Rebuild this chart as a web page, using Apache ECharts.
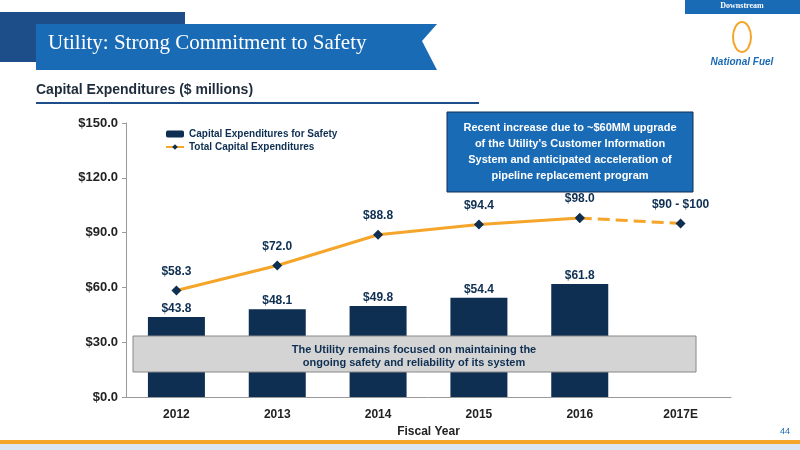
<!DOCTYPE html><html><head><meta charset="utf-8">
<script src="https://cdn.jsdelivr.net/npm/echarts@6/dist/echarts.min.js"></script>
<style>html,body{margin:0;padding:0;background:#fff}#c{width:800px;height:450px}</style></head>
<body><div id="c"></div><script>
const categories=['2012','2013','2014','2015','2016','2017E'];
const safety=[43.8,48.1,49.8,54.4,61.8,null];
const total=[58.3,72.0,88.8,94.4,98.0,null];
const projected=[null,null,null,null,98.0,95.0];
const totalLabels=['$58.3','$72.0','$88.8','$94.4','$98.0','$90 - $100'];
const yTicks=[0,30,60,90,120,150];
const F='Liberation Sans';
const chart=echarts.init(document.getElementById('c'));
chart.setOption({
animation:false,
textStyle:{fontFamily:F},
grid:{left:126,right:69,top:123,bottom:53},
legend:{left:160,top:124,orient:'vertical',itemGap:3,itemWidth:18,itemHeight:7,
 textStyle:{fontSize:10,fontWeight:'bold',color:'#0e2f52',fontFamily:F},
 data:['Capital Expenditures for Safety','Total Capital Expenditures']},
xAxis:{type:'category',data:categories,axisTick:{show:false},
 axisLine:{lineStyle:{color:'#999'}},
 axisLabel:{fontSize:12,fontWeight:'bold',color:'#222',margin:12},
 name:'Fiscal Year',nameLocation:'middle',nameGap:24,nameTextStyle:{fontSize:12,fontWeight:'bold',color:'#222'}},
yAxis:{type:'value',min:0,max:150,interval:30,splitLine:{show:false},
 axisLine:{show:true,lineStyle:{color:'#999'}},axisTick:{show:true,length:4},
 axisLabel:{fontSize:13,fontWeight:'bold',color:'#222',formatter:v=>'$'+v.toFixed(1)}},
series:[
{name:'Capital Expenditures for Safety',type:'bar',data:safety,barWidth:57,z:1,
 itemStyle:{color:'#0e2f52'},
 label:{show:true,position:'top',distance:2,fontSize:12,fontWeight:'bold',color:'#0e2f52',formatter:p=>'$'+p.value.toFixed(1)}},
{name:'Total Capital Expenditures',type:'line',data:total,symbol:'diamond',symbolSize:10,z:3,
 lineStyle:{color:'#f5a52a',width:3},itemStyle:{color:'#0e2f52'},
 label:{show:true,position:'top',distance:8,fontSize:12,fontWeight:'bold',color:'#0e2f52',formatter:p=>totalLabels[p.dataIndex]}},
{name:'proj',type:'line',data:projected,symbol:'diamond',symbolSize:10,z:2,
 lineStyle:{color:'#f5a52a',width:3,type:'dashed'},itemStyle:{color:'#0e2f52'},
 label:{show:true,position:'top',distance:8,fontSize:12,fontWeight:'bold',color:'#0e2f52',formatter:p=>p.dataIndex===5?totalLabels[5]:''}}
],
graphic:[
{type:'rect',shape:{x:0,y:12,width:185,height:50},style:{fill:'#1d4e89'},z:-1},
{type:'polygon',shape:{points:[[36,24],[437,24],[422,41],[437,70],[36,70]]},style:{fill:'#1a6bb5'}},
{type:'text',x:48,y:33,style:{text:'Utility: Strong Commitment to Safety',font:'21px "Liberation Serif"',fill:'#fff'}},
{type:'rect',shape:{x:685,y:0,width:115,height:14},style:{fill:'#1a6bb5'}},
{type:'text',x:742,y:2,style:{text:'Downstream',font:'bold 8px "Liberation Serif"',fill:'#fff',textAlign:'center'}},
{type:'text',x:742,y:57,style:{text:'National Fuel',font:'italic bold 10px "Liberation Sans"',fill:'#1a6bb5',textAlign:'center'}},
{type:'ellipse',shape:{cx:742,cy:37,rx:9,ry:15},style:{fill:'#fff',stroke:'#f5a52a',lineWidth:2}},
{type:'text',x:36,y:83,style:{text:'Capital Expenditures ($ millions)',font:'bold 14px "Liberation Sans"',fill:'#1d2b3a'}},
{type:'rect',shape:{x:36,y:102,width:443,height:2},style:{fill:'#1d4e89'}},
{type:'rect',shape:{x:447,y:112,width:246,height:80},style:{fill:'#1a6bb5',stroke:'#0e2f52',lineWidth:1}},
{type:'text',x:570,y:120,style:{text:"Recent increase due to ~$60MM upgrade\nof the Utility's Customer Information\nSystem and anticipated acceleration of\npipeline replacement program",font:'bold 11px "Liberation Sans"',fill:'#fff',textAlign:'center',lineHeight:16}},
{type:'rect',shape:{x:133,y:336,width:563,height:36},style:{fill:'#d4d4d4',stroke:'#888',lineWidth:1},z:10},
{type:'text',x:414,y:343,z:11,style:{text:'The Utility remains focused on maintaining the\nongoing safety and reliability of its system',font:'bold 11px "Liberation Sans"',fill:'#0e2f52',textAlign:'center',lineHeight:13}},
{type:'rect',shape:{x:0,y:440,width:800,height:4},style:{fill:'#f5a52a'}},
{type:'rect',shape:{x:0,y:444,width:800,height:6},style:{fill:'#dbe6f2'}},
{type:'text',x:790,y:427,style:{text:'44',font:'9px "Liberation Sans"',fill:'#1a6bb5',textAlign:'right'}}
]});
</script></body></html>
